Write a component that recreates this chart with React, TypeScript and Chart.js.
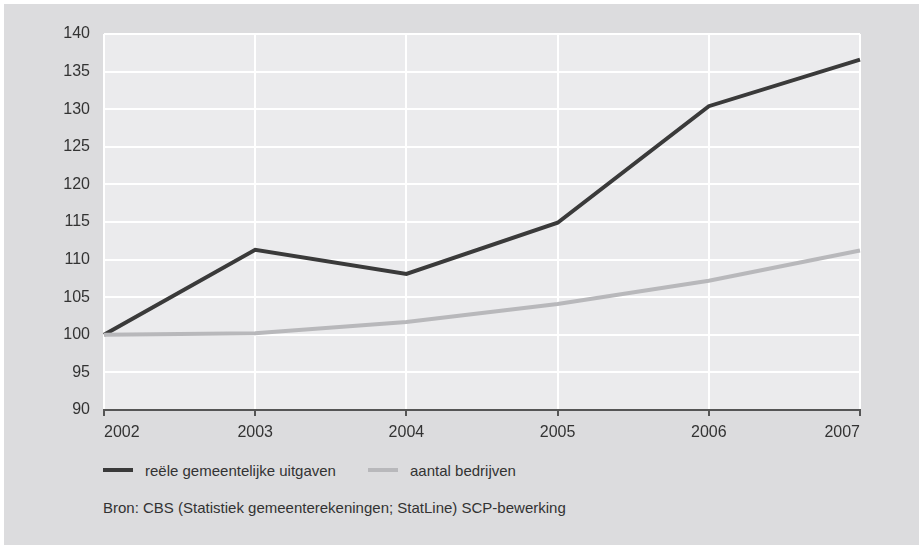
import React, { useEffect, useRef } from "react";
import { Chart, registerables } from "chart.js";

Chart.register(...registerables);

const years = ["2002", "2003", "2004", "2005", "2006", "2007"];
const uitgaven = [100, 111.3, 108.1, 114.9, 130.4, 136.6];
const bedrijven = [100, 100.2, 101.7, 104.1, 107.2, 111.2];
const seriesNames = ["reële gemeentelijke uitgaven", "aantal bedrijven"];
const seriesColors = ["#3a3a3a", "#b8b8bb"];
const sourceText = "Bron: CBS (Statistiek gemeenterekeningen; StatLine) SCP-bewerking";

const FONT = "'Liberation Sans', Arial, sans-serif";

const plotBg = {
  id: "plotBg",
  beforeDraw(chart: any) {
    const { ctx, chartArea } = chart;
    ctx.save();
    ctx.fillStyle = "#ebebed";
    ctx.fillRect(chartArea.left, chartArea.top, chartArea.right - chartArea.left, chartArea.bottom - chartArea.top);
    ctx.restore();
  },
};

export default function App() {
  const ref = useRef<HTMLCanvasElement>(null);
  useEffect(() => {
    document.body.style.margin = "0";
    const chart = new Chart(ref.current!, {
      type: "line",
      data: {
        labels: years,
        datasets: [
          {
            label: seriesNames[0],
            data: uitgaven,
            borderColor: seriesColors[0],
            borderWidth: 4,
            pointRadius: 0,
            tension: 0,
          },
          {
            label: seriesNames[1],
            data: bedrijven,
            borderColor: seriesColors[1],
            borderWidth: 4,
            pointRadius: 0,
            tension: 0,
          },
        ].reverse(),
      },
      options: {
        animation: false,
        responsive: false,
        devicePixelRatio: 1,
        layout: { padding: { left: 0, top: 34, right: 59, bottom: 0 } },
        plugins: { legend: { display: false }, tooltip: { enabled: false } },
        scales: {
          x: {
            offset: false,
            grid: { color: "#ffffff", lineWidth: 2, tickColor: "#555555", tickLength: 6, drawOnChartArea: true },
            border: { display: true, color: "#555555", width: 2 },
            ticks: { align: "inner", padding: 7, color: "#333333", font: { family: FONT, size: 16 }, maxRotation: 0 },
            afterFit: (s: any) => { s.height = 40; },
          },
          y: {
            min: 90,
            max: 140,
            grid: { color: "#ffffff", lineWidth: 2, drawTicks: false },
            border: { display: false },
            ticks: { stepSize: 5, padding: 14, color: "#333333", font: { family: FONT, size: 16 } },
            afterFit: (s: any) => { s.width = 104; },
          },
        },
      },
      plugins: [plotBg],
    });
    return () => chart.destroy();
  }, []);

  const legendItem = (i: number, left: number) => (
    <div key={i} style={{ position: "absolute", left, top: 460, height: 20, display: "flex", alignItems: "center" }}>
      <div style={{ width: 30, height: 4, background: seriesColors[i], marginRight: 12 }} />
      <span style={{ fontFamily: FONT, fontSize: 15, color: "#333333", whiteSpace: "nowrap" }}>{seriesNames[i]}</span>
    </div>
  );

  return (
    <div style={{ position: "relative", width: 919, height: 545, background: "#ffffff" }}>
      <div style={{ position: "absolute", left: 4, top: 4, width: 915, height: 541, background: "#dcdcde" }} />
      <canvas ref={ref} width={919} height={450} style={{ position: "absolute", left: 0, top: 0, width: 919, height: 450 }} />
      {legendItem(0, 103)}
      {legendItem(1, 368)}
      <div style={{ position: "absolute", left: 103, top: 499, fontFamily: FONT, fontSize: 15, color: "#333333", whiteSpace: "nowrap" }}>
        {sourceText}
      </div>
    </div>
  );
}
